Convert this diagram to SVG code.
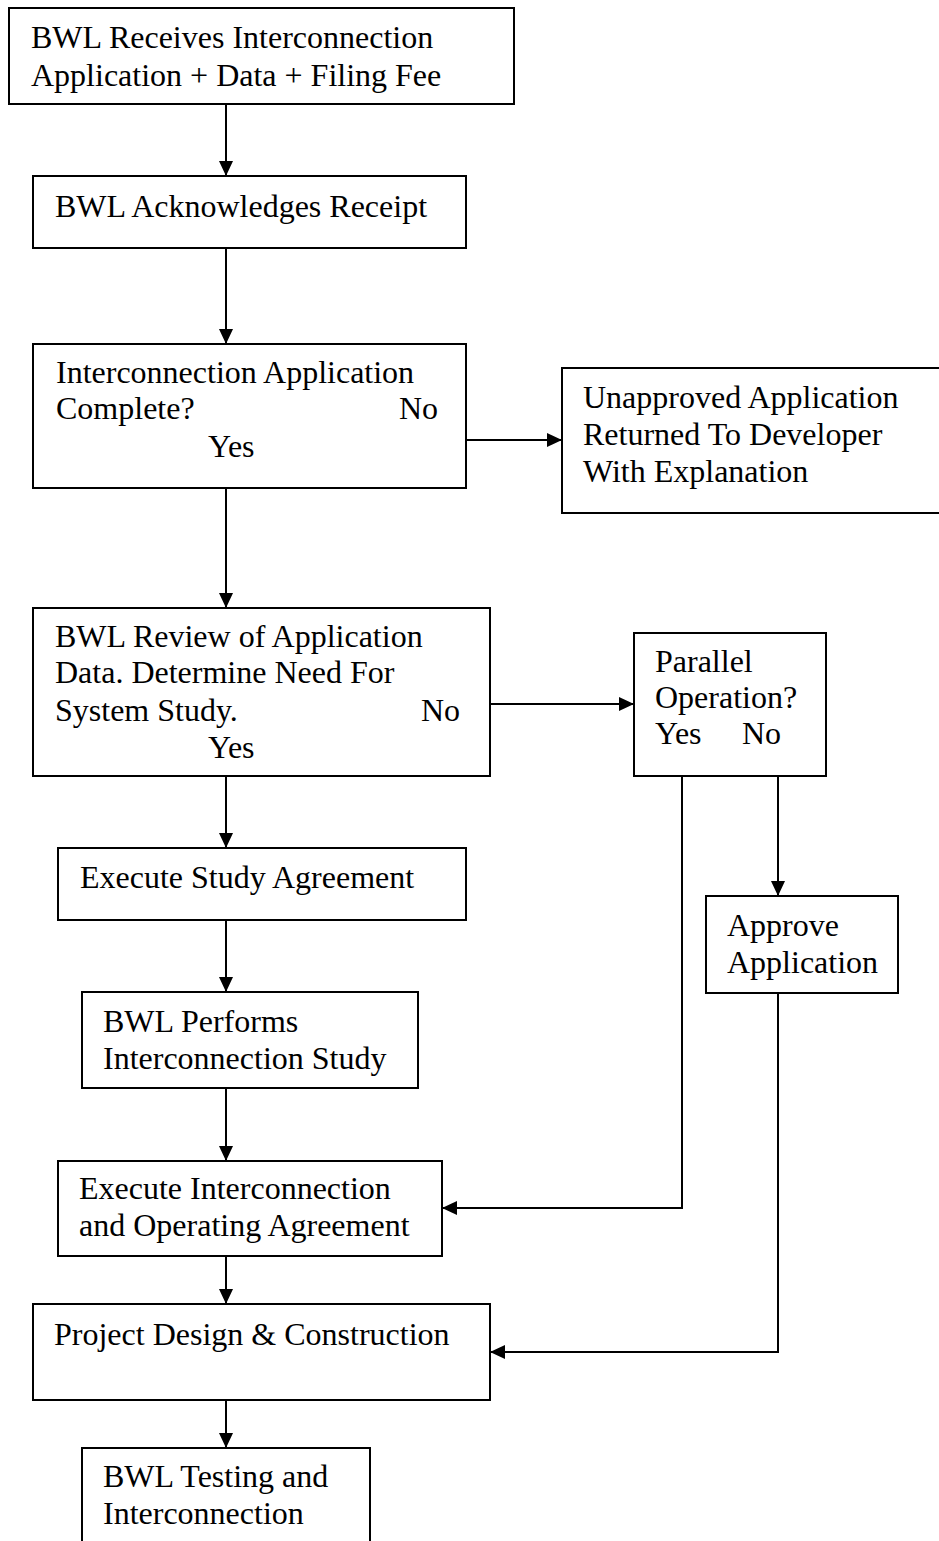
<svg xmlns="http://www.w3.org/2000/svg" width="939" height="1541" viewBox="0 0 939 1541">
<style>
.box{fill:#fff;stroke:#000;stroke-width:2}
.t{font-family:"Liberation Serif","Times New Roman",serif;font-size:32px;fill:#000}
.c{fill:none;stroke:#000;stroke-width:2}
</style>
<defs>
<marker id="ah" markerUnits="userSpaceOnUse" markerWidth="16" markerHeight="16" viewBox="0 0 16 16" refX="15" refY="8" orient="auto">
<path d="M0,1 L15,8 L0,15 Z" fill="#000"/>
</marker>
</defs>
<rect width="939" height="1541" fill="#fff"/>
<g id="connectors">
<line class="c" x1="226" y1="104" x2="226" y2="176" marker-end="url(#ah)"/>
<line class="c" x1="226" y1="248" x2="226" y2="344" marker-end="url(#ah)"/>
<line class="c" x1="466" y1="440" x2="562" y2="440" marker-end="url(#ah)"/>
<line class="c" x1="226" y1="488" x2="226" y2="608" marker-end="url(#ah)"/>
<line class="c" x1="490" y1="704" x2="634" y2="704" marker-end="url(#ah)"/>
<line class="c" x1="226" y1="776" x2="226" y2="848" marker-end="url(#ah)"/>
<line class="c" x1="226" y1="920" x2="226" y2="992" marker-end="url(#ah)"/>
<line class="c" x1="226" y1="1088" x2="226" y2="1161" marker-end="url(#ah)"/>
<line class="c" x1="226" y1="1256" x2="226" y2="1304" marker-end="url(#ah)"/>
<line class="c" x1="226" y1="1400" x2="226" y2="1448" marker-end="url(#ah)"/>
<line class="c" x1="778" y1="776" x2="778" y2="896" marker-end="url(#ah)"/>
<polyline class="c" points="682,776 682,1208 442,1208" marker-end="url(#ah)"/>
<polyline class="c" points="778,993 778,1352 490,1352" marker-end="url(#ah)"/>
</g>
<g id="n1">
<rect class="box" x="9" y="8" width="505" height="96"/>
<text class="t" x="31" y="48">BWL Receives Interconnection</text>
<text class="t" x="31" y="86">Application + Data + Filing Fee</text>
</g>
<g id="n2">
<rect class="box" x="33" y="176" width="433" height="72"/>
<text class="t" x="55" y="217">BWL Acknowledges Receipt</text>
</g>
<g id="n3">
<rect class="box" x="33" y="344" width="433" height="144"/>
<text class="t" x="56" y="383">Interconnection Application</text>
<text class="t" x="56" y="419">Complete?</text>
<text class="t" x="399" y="419">No</text>
<text class="t" x="208" y="457">Yes</text>
</g>
<g id="n4">
<rect class="box" x="562" y="368" width="400" height="145"/>
<text class="t" x="583" y="408">Unapproved Application</text>
<text class="t" x="583" y="445">Returned To Developer</text>
<text class="t" x="583" y="482">With Explanation</text>
</g>
<g id="n5">
<rect class="box" x="33" y="608" width="457" height="168"/>
<text class="t" x="55" y="647">BWL Review of Application</text>
<text class="t" x="55" y="683">Data. Determine Need For</text>
<text class="t" x="55" y="721">System Study.</text>
<text class="t" x="421" y="721">No</text>
<text class="t" x="208" y="758">Yes</text>
</g>
<g id="n6">
<rect class="box" x="634" y="633" width="192" height="143"/>
<text class="t" x="655" y="672">Parallel</text>
<text class="t" x="655" y="708">Operation?</text>
<text class="t" x="655" y="744">Yes</text>
<text class="t" x="742" y="744">No</text>
</g>
<g id="n7">
<rect class="box" x="58" y="848" width="408" height="72"/>
<text class="t" x="80" y="888">Execute Study Agreement</text>
</g>
<g id="n8">
<rect class="box" x="706" y="896" width="192" height="97"/>
<text class="t" x="727" y="936">Approve</text>
<text class="t" x="727" y="973">Application</text>
</g>
<g id="n9">
<rect class="box" x="82" y="992" width="336" height="96"/>
<text class="t" x="103" y="1032">BWL Performs</text>
<text class="t" x="103" y="1069">Interconnection Study</text>
</g>
<g id="n10">
<rect class="box" x="58" y="1161" width="384" height="95"/>
<text class="t" x="79" y="1199">Execute Interconnection</text>
<text class="t" x="79" y="1236">and Operating Agreement</text>
</g>
<g id="n11">
<rect class="box" x="33" y="1304" width="457" height="96"/>
<text class="t" x="54" y="1345">Project Design &amp; Construction</text>
</g>
<g id="n12">
<rect class="box" x="82" y="1448" width="288" height="120"/>
<text class="t" x="103" y="1487">BWL Testing and</text>
<text class="t" x="103" y="1524">Interconnection</text>
</g>
</svg>
